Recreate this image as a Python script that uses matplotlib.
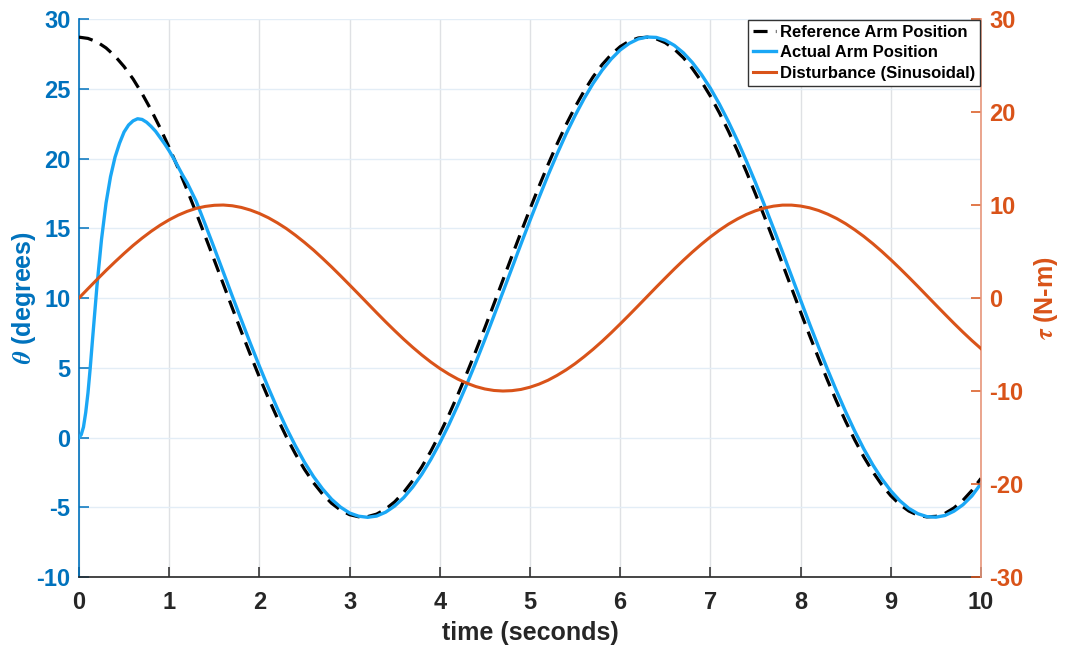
import matplotlib
matplotlib.use("Agg")
import matplotlib.pyplot as plt

# ---- data ----
t_ref = [round(0.1 * i, 1) for i in range(101)]
reference_pos = [28.70, 28.61, 28.36, 27.93, 27.34, 26.59, 25.70, 24.65, 23.48, 22.19,
                 20.79, 19.30, 17.73, 16.10, 14.42, 12.72, 11.00, 9.28, 7.59, 5.94,
                 4.34, 2.82, 1.38, 0.04, -1.18, -2.28, -3.24, -4.05, -4.71, -5.20,
                 -5.53, -5.68, -5.67, -5.49, -5.13, -4.61, -3.93, -3.09, -2.11, -0.99,
                 0.26, 1.61, 3.07, 4.61, 6.21, 7.87, 9.57, 11.29, 13.01, 14.71,
                 16.38, 18.00, 19.56, 21.04, 22.42, 23.69, 24.84, 25.86, 26.73, 27.45,
                 28.02, 28.41, 28.64, 28.70, 28.58, 28.30, 27.84, 27.23, 26.45, 25.53,
                 24.47, 23.27, 21.96, 20.55, 19.04, 17.46, 15.82, 14.14, 12.43, 10.71,
                 9.00, 7.31, 5.67, 4.08, 2.57, 1.15, -0.17, -1.38, -2.45, -3.39,
                 -4.17, -4.80, -5.27, -5.57, -5.69, -5.65, -5.44, -5.05, -4.50, -3.79,
                 -2.93]

t_act = [0.0, 0.025, 0.05, 0.075, 0.1, 0.125, 0.15, 0.2, 0.25, 0.3, 0.35, 0.4, 0.45,
         0.5, 0.55, 0.6, 0.65, 0.7, 0.75, 0.8, 0.85, 0.9, 0.95, 1.0, 1.05, 1.1, 1.15] + \
        [round(0.1 * i, 1) for i in range(12, 101)]
actual_pos = [0.0, 0.2, 0.75, 1.8, 3.2, 5.0, 7.0, 10.9, 14.2, 16.8, 18.7, 20.1, 21.1,
              21.9, 22.4, 22.7, 22.85, 22.8, 22.6, 22.3, 21.95, 21.5, 21.05, 20.55, 20.0,
              19.4, 18.8,
              18.25, 16.93, 15.27, 13.58, 11.86, 10.13, 8.43, 6.75,
              5.12, 3.56, 2.07, 0.68, -0.60, -1.77, -2.80, -3.68, -4.42, -4.99,
              -5.41, -5.64, -5.72, -5.63, -5.35, -4.91, -4.31, -3.55, -2.64, -1.58,
              -0.39, 0.91, 2.32, 3.82, 5.39, 7.03, 8.72, 10.43, 12.15, 13.87,
              15.56, 17.20, 18.80, 20.32, 21.76, 23.08, 24.30, 25.39, 26.33, 27.13,
              27.78, 28.25, 28.57, 28.71, 28.68, 28.48, 28.11, 27.58, 26.88, 26.03,
              25.04, 23.90, 22.64, 21.28, 19.81, 18.27, 16.65, 14.99, 13.29, 11.57,
              9.85, 8.14, 6.48, 4.86, 3.31, 1.84, 0.46, -0.81, -1.95, -2.96,
              -3.82, -4.53, -5.08, -5.46, -5.67, -5.71, -5.59, -5.28, -4.82, -4.18,
              -3.30]

t_dist = t_ref
disturbance = [0.00, 1.00, 1.99, 2.96, 3.89, 4.79, 5.65, 6.44, 7.17, 7.83,
               8.41, 8.91, 9.32, 9.64, 9.85, 9.97, 10.00, 9.92, 9.74, 9.46,
               9.09, 8.63, 8.08, 7.46, 6.75, 5.98, 5.16, 4.27, 3.35, 2.39,
               1.41, 0.42, -0.58, -1.58, -2.56, -3.51, -4.43, -5.30, -6.12, -6.88,
               -7.57, -8.18, -8.72, -9.16, -9.52, -9.78, -9.94, -10.00, -9.96, -9.83,
               -9.59, -9.26, -8.84, -8.32, -7.73, -7.06, -6.31, -5.51, -4.65, -3.74,
               -2.79, -1.82, -0.83, 0.17, 1.17, 2.15, 3.12, 4.05, 4.94, 5.78,
               6.57, 7.29, 7.94, 8.50, 8.99, 9.38, 9.68, 9.88, 9.99, 9.99,
               9.89, 9.70, 9.41, 9.02, 8.55, 7.99, 7.34, 6.63, 5.85, 5.01,
               4.12, 3.19, 2.23, 1.25, 0.25, -0.75, -1.74, -2.72, -3.67, -4.58,
               -5.44]

x_ticks = [0, 1, 2, 3, 4, 5, 6, 7, 8, 9, 10]
left_ticks = [-10, -5, 0, 5, 10, 15, 20, 25, 30]
right_ticks = [-30, -20, -10, 0, 10, 20, 30]
labels = ["Reference Arm Position", "Actual Arm Position", "Disturbance (Sinusoidal)"]

# ---- style ----
BLUE_AX = "#0072BD"
ORANGE = "#D95319"
ACT = "#1AA7F5"
DARK = "#262626"

plt.rcParams['font.family'] = ['Liberation Sans', 'DejaVu Sans']
plt.rcParams['font.weight'] = 'bold'
plt.rcParams['mathtext.fontset'] = 'stix'

fig = plt.figure(figsize=(10.67, 6.49), dpi=100)
ax = fig.add_axes([0.074, 0.1109, 0.8454, 0.8598])
ax2 = ax.twinx()

l1, = ax.plot(t_ref, reference_pos, color="black", lw=2.3, linestyle=(0, (4.4, 2.6)),
              label=labels[0], zorder=3)
l2, = ax.plot(t_act, actual_pos, color=ACT, lw=2.4, label=labels[1], zorder=4)
l3, = ax2.plot(t_dist, disturbance, color=ORANGE, lw=2.2, label=labels[2], zorder=3)

ax.set_xlim(0, 10)
ax.set_ylim(-10, 30)
ax2.set_ylim(-30, 30)
ax.set_xticks(x_ticks)
ax.set_yticks(left_ticks)
ax2.set_yticks(right_ticks)
ax.set_yticklabels([str(v) for v in left_ticks])
ax2.set_yticklabels([str(v) for v in right_ticks])
ax.set_xticklabels([str(v) for v in x_ticks])

ax.grid(True, axis='x', color="#dfe1e4", lw=1.0, zorder=0)
ax.grid(True, axis='y', color="#e3edf6", lw=1.0, zorder=0)
ax.set_axisbelow(True)

for a in (ax, ax2):
    a.spines['top'].set_visible(False)
ax.spines['left'].set_color(BLUE_AX)
ax.spines['bottom'].set_color(DARK)
ax.spines['right'].set_visible(False)
ax2.spines['left'].set_visible(False)
ax2.spines['bottom'].set_visible(False)
ax2.spines['right'].set_color("#E8967A")
ax2.spines['right'].set_linewidth(1.2)
ax.spines['left'].set_linewidth(1.2)
ax.spines['bottom'].set_linewidth(1.2)

ax.tick_params(axis='x', direction='in', length=7, width=1.1, colors=DARK,
               labelsize=17, pad=10)
ax.tick_params(axis='y', direction='in', length=7, width=1.1, colors=BLUE_AX,
               labelsize=17, pad=6)
ax2.tick_params(axis='y', direction='in', length=7, width=1.1, colors=ORANGE,
                labelsize=17, pad=6)

ax.set_xlabel("time (seconds)", fontsize=18, color=DARK, fontweight='bold', labelpad=5)
ax.set_ylabel(r"$\theta$ (degrees)", fontsize=18, color=BLUE_AX, fontweight='bold',
              labelpad=-1)
ax2.set_ylabel(r"$\tau$ (N-m)", fontsize=18, color=ORANGE, fontweight='bold',
               labelpad=6)

leg = ax2.legend(handles=[l1, l2, l3], labels=labels, loc='upper right',
                 bbox_to_anchor=(1.0, 1.0), borderaxespad=0.05,
                 handlelength=1.35, handletextpad=0.25, labelspacing=0.32,
                 borderpad=0.3, fancybox=False, framealpha=1.0,
                 prop={'weight': 'bold', 'size': 12})
leg.get_frame().set_edgecolor("#333333")
leg.get_frame().set_linewidth(1.0)
leg.set_zorder(10)

fig.savefig("out.png", dpi=100)
